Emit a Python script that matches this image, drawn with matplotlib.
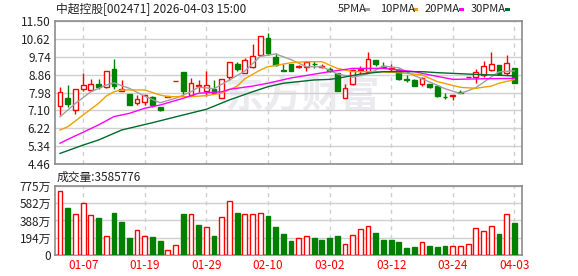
import matplotlib
matplotlib.use('Agg')
from matplotlib import pyplot as plt
from matplotlib.patches import Rectangle
import numpy as np

plt.rcParams['font.family'] = ['Noto Sans CJK SC', 'DejaVu Sans']

# daily K-line, 60 trading days
opens = [7.30, 7.69, 7.12, 8.17, 8.09, 8.39, 8.26, 9.12, 8.06, 7.90,
         7.46, 7.51, 7.78, 7.28, 7.77, 8.54, 9.01, 7.85, 8.29, 8.06,
         8.14, 7.73, 8.76, 9.40, 8.96, 9.23, 9.85, 10.67, 9.74, 9.09,
         9.38, 9.22, 9.22, 9.40, 9.23, 9.15, 8.96, 7.73, 8.42, 9.07,
         9.01, 9.56, 9.31, 9.12, 9.07, 8.66, 8.60, 8.42, 8.42, 8.31,
         7.78, 7.82, 8.01, 8.75, 8.75, 8.84, 9.10, 9.35, 8.94, 9.17]
highs = [8.25, 8.34, 8.16, 8.92, 8.63, 8.66, 9.04, 9.64, 8.58, 7.90,
         7.88, 7.88, 7.81, 7.28, 7.79, 8.56, 9.01, 8.68, 8.58, 9.03,
         8.60, 8.66, 9.49, 9.49, 9.67, 10.38, 10.78, 10.91, 9.94, 9.40,
         9.40, 9.33, 9.50, 9.54, 9.40, 9.23, 8.96, 8.42, 9.15, 9.31,
         9.97, 9.56, 9.48, 9.40, 9.12, 8.83, 8.63, 8.76, 8.42, 8.34,
         7.95, 7.85, 8.12, 8.77, 9.12, 9.54, 9.97, 9.35, 9.84, 9.20]
lows = [6.90, 7.29, 6.95, 8.06, 8.06, 8.14, 8.22, 8.14, 8.06, 7.38,
        7.38, 7.39, 7.29, 7.08, 7.77, 8.54, 7.85, 7.81, 8.01, 7.81,
        7.90, 7.70, 8.58, 9.04, 8.92, 9.20, 9.80, 9.85, 9.28, 9.05,
        9.02, 9.17, 9.05, 9.18, 9.20, 8.98, 8.06, 7.70, 8.35, 8.91,
        8.99, 9.28, 9.20, 8.99, 8.60, 8.50, 8.31, 8.31, 8.19, 7.78,
        7.67, 7.62, 7.98, 8.75, 8.47, 8.76, 9.05, 8.89, 8.84, 8.47]
closes = [8.02, 7.44, 8.14, 8.34, 8.42, 8.26, 9.04, 8.29, 8.17, 7.38,
          7.67, 7.85, 7.36, 7.12, 7.79, 8.56, 8.08, 8.47, 8.34, 8.34,
          7.98, 8.66, 9.49, 9.12, 9.59, 9.80, 10.78, 9.94, 9.33, 9.05,
          9.05, 9.27, 9.46, 9.37, 9.31, 9.05, 8.06, 8.22, 9.07, 9.15,
          9.65, 9.40, 9.23, 9.20, 8.63, 8.61, 8.31, 8.71, 8.26, 7.82,
          7.75, 7.85, 7.98, 8.77, 8.97, 9.27, 9.38, 8.89, 9.43, 8.47]

# volume in 万 shares, r = up day, g = down day
volumes = [718, 530, 463, 583, 451, 418, 214, 474, 365, 192,
           282, 214, 203, 158, 53, 109, 463, 463, 339, 312,
           214, 425, 606, 474, 463, 463, 470, 440, 316, 237,
           158, 188, 211, 192, 169, 192, 214, 124, 222, 290,
           324, 248, 169, 169, 147, 79, 90, 147, 102, 90,
           102, 98, 98, 124, 301, 267, 324, 237, 463, 358.6]
vol_dir = "rgrrrgrggg" "rrggrrgrgr" "grrgrrrggg" "grrggggrrr" "rggggggrgg" "grrrrrrgrg"

# moving averages (index, value)
ma5_idx = [0, 2, 4, 6, 7, 9, 11, 13, 15, 17, 18, 20, 22, 24, 26, 28, 30, 32, 34, 36,
           38, 40, 42, 44, 46, 48, 50, 52, 54, 56, 57, 59]
ma5 = [6.79, 7.45, 8.02, 8.35, 8.46, 8.19, 7.80, 7.48, 7.70, 8.02, 8.25, 8.17, 8.60, 9.04,
       9.76, 9.88, 9.60, 9.25, 9.25, 8.90, 8.74, 8.90, 9.28, 9.20, 8.82, 8.50, 8.17, 7.93,
       8.22, 8.75, 9.00, 9.05]
ma10_idx = [0, 1, 3, 5, 6, 7, 8, 11, 13, 14, 17, 19, 21, 23, 24, 26, 27, 30, 32, 34, 36,
            38, 41, 44, 47, 49, 52, 54, 56, 57, 59]
ma10 = [6.14, 6.30, 6.88, 7.45, 7.81, 8.02, 8.11, 8.11, 7.86, 7.78, 7.78, 7.83, 7.95, 8.30,
        8.66, 9.09, 9.25, 9.45, 9.50, 9.50, 9.17, 9.01, 9.01, 8.96, 8.85, 8.52, 8.24, 8.19,
        8.30, 8.44, 8.62]
ma20_idx = [0, 1, 3, 5, 7, 9, 11, 13, 16, 18, 21, 22, 25, 27, 30, 35, 38, 42, 46, 48, 51, 55, 59]
ma20 = [5.49, 5.68, 6.03, 6.39, 6.80, 6.96, 7.21, 7.37, 7.70, 7.95, 8.02, 8.14, 8.30, 8.44,
        8.70, 9.01, 9.17, 9.17, 9.01, 8.85, 8.63, 8.66, 8.68]
ma30_idx = [0, 3, 5, 8, 12, 16, 19, 22, 25, 27, 29, 33, 35, 36, 39, 42, 47, 49, 53, 56, 59]
ma30 = [4.99, 5.40, 5.65, 6.14, 6.50, 6.88, 7.16, 7.62, 8.02, 8.27, 8.44, 8.60, 8.63, 8.68,
        8.89, 9.01, 9.01, 8.96, 8.89, 8.85, 8.80]

tick_idx = [3, 11, 19, 27, 35, 43, 51, 59]
tick_labels = ['01-07', '01-19', '01-29', '02-10', '03-02', '03-12', '03-24', '04-03']
price_ticks = [4.46, 5.34, 6.22, 7.10, 7.98, 8.86, 9.74, 10.62, 11.50]
vol_ticks = [0, 193.75, 387.5, 581.25, 775]
vol_tick_labels = ['0', '194万', '388万', '582万', '775万']

RED = '#ff0000'
GREEN = '#008000'
GRID = '#d0d0d0'
FRAME = '#8c8c8c'

fig = plt.figure(figsize=(5.78, 2.76), dpi=100)
ax = fig.add_axes([0.0952, 0.4051, 0.8080, 0.5188])
axv = fig.add_axes([0.0952, 0.0761, 0.8080, 0.2500])

n = len(closes)
x = np.arange(n)
xlim = (-0.65, 60.0)
w = 0.62


def style(a):
    for s in a.spines.values():
        s.set_color(FRAME)
        s.set_linewidth(1.2)
    a.set_xlim(*xlim)
    a.set_xticks(tick_idx)
    a.tick_params(length=0, labelsize=8.5, pad=3)
    a.grid(axis='y', color=GRID, linewidth=1)
    for t in tick_idx:
        a.axvline(t, color=GRID, linestyle=(0, (3, 3)), linewidth=1, zorder=0)
    a.set_axisbelow(True)


# price panel
style(ax)
ax.set_ylim(4.46, 11.50)
ax.set_yticks(price_ticks)
ax.set_yticklabels(['%.2f' % v for v in price_ticks], color='#222222')
ax.set_xticklabels([])

ax.text(0.53, 0.47, '东方财富', transform=ax.transAxes, fontsize=28, fontweight='bold',
        color='#ebebef', ha='center', va='center', zorder=0)

for i in range(n):
    up = closes[i] >= opens[i]
    col = RED if up else GREEN
    ax.vlines(x[i], lows[i], highs[i], color=col, linewidth=1, zorder=2)
    lo = min(opens[i], closes[i])
    h = max(abs(closes[i] - opens[i]), 0.02)
    ax.add_patch(Rectangle((x[i] - w / 2, lo), w, h, facecolor='white' if up else GREEN,
                           edgecolor=col, linewidth=1, zorder=3))

ax.plot(ma5_idx, ma5, color='#a0a0a0', linewidth=1, zorder=4)
ax.plot(ma10_idx, ma10, color='#f0a000', linewidth=1, zorder=4)
ax.plot(ma20_idx, ma20, color='#ff00ff', linewidth=1, zorder=4)
ax.plot(ma30_idx, ma30, color='#006b2b', linewidth=1, zorder=4)

# volume panel
style(axv)
axv.set_ylim(0, 775)
axv.set_yticks(vol_ticks)
axv.set_yticklabels(vol_tick_labels, color='#222222')
axv.set_xticklabels(tick_labels, color=RED)
for i in range(n):
    up = vol_dir[i] == 'r'
    axv.bar(x[i], volumes[i], width=w, color='white' if up else GREEN,
            edgecolor=RED if up else GREEN, linewidth=1, zorder=3)

# header texts
fig.text(0.097, 0.968, '中超控股[002471] 2026-04-03 15:00', fontsize=8.5, va='center', color='#222222')
fig.text(0.097, 0.358, '成交量:3585776', fontsize=8.5, va='center', color='#222222')

legend = [('5PMA', '#a0a0a0', 338, 365), ('10PMA', '#f0a000', 380, 413),
          ('20PMA', '#ff00ff', 425, 459), ('30PMA', '#006b2b', 471, 505)]
for name, col, tx, mx in legend:
    fig.text(tx / 578, 0.968, name, fontsize=8, va='center', color='#222222')
    fig.patches.append(Rectangle((mx / 578, 1 - 11 / 276), 5 / 578, 3 / 276,
                                 transform=fig.transFigure, facecolor=col, edgecolor='none'))

fig.savefig('out.png', dpi=100)
